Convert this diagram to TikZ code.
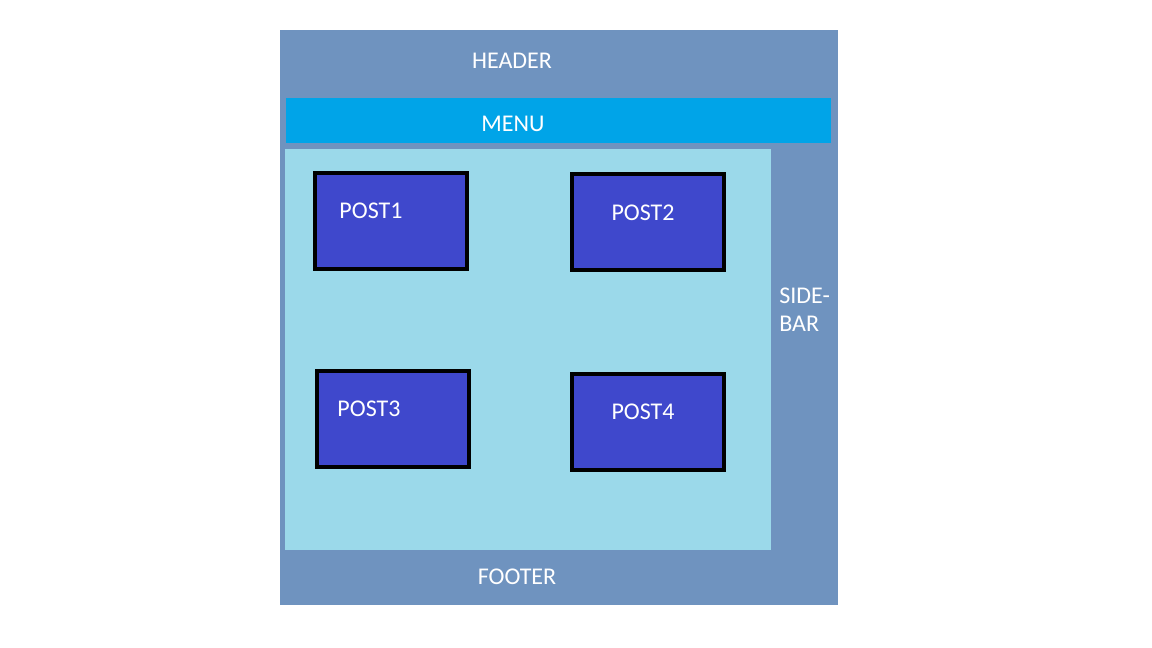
\documentclass[tikz,border=0pt]{standalone}
\usepackage{fontspec}
\setmainfont{Carlito}
\definecolor{outerc}{HTML}{6F93BF}
\definecolor{menuc}{HTML}{00A4E8}
\definecolor{contentc}{HTML}{9BD9EA}
\definecolor{postc}{HTML}{3F48CC}
\begin{document}
\begin{tikzpicture}[x=0.75pt,y=-0.75pt,
  region/.style={inner sep=0pt,outer sep=0pt},
  postbox/.style={draw=black,fill=postc,line width=3.4pt,inner sep=0pt,outer sep=0pt},
  lbl/.style={text=white,font=\fontsize{18}{21}\selectfont,inner sep=0pt}]
\useasboundingbox (0,0) rectangle (1152,648);
\fill[white] (0,0) rectangle (1152,648);
% outer frame
\path[fill=outerc] (280,30) rectangle (838,605);
% menu
\path[fill=menuc] (286,98) rectangle (831,143);
% content
\path[fill=contentc] (285,149) rectangle (771,550);
% posts
\path[postbox] (315.2,173.2) rectangle (466.8,268.8);
\path[postbox] (572.2,174.2) rectangle (723.8,269.8);
\path[postbox] (317.2,371.2) rectangle (468.8,466.8);
\path[postbox] (572.2,374.2) rectangle (723.8,469.8);
% labels
\node[lbl] (header) at (512,61) {HEADER};
\node[lbl] (menu) at (513,124) {MENU};
\node[lbl] (footer) at (517,577) {FOOTER};
\node[lbl] (p1) at (371,211) {POST1};
\node[lbl] (p2) at (643,213) {POST2};
\node[lbl] (p3) at (369,409) {POST3};
\node[lbl] (p4) at (643,412) {POST4};
\node[lbl,anchor=west,align=left] (side) at (779,310) {SIDE-\\BAR};
\end{tikzpicture}
\end{document}
